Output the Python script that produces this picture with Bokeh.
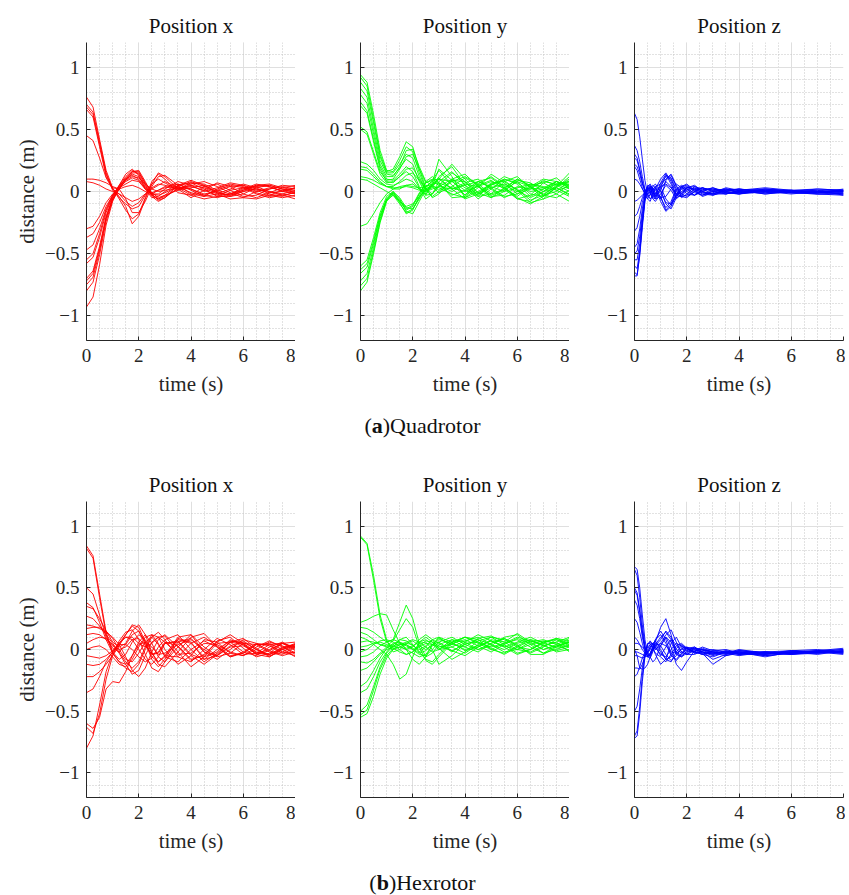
import numpy as np
from bokeh.plotting import figure
from bokeh.layouts import column, row
from bokeh.models import Div, FixedTicker, Range1d
from bokeh.embed import file_html
from bokeh.resources import INLINE

# ---------------- data ----------------
# time grid used for the x / y position panels
T = [0, 0.25, 0.5, 0.75, 1, 1.25, 1.5, 1.75, 2, 2.25, 2.5, 2.75, 3,
     3.5, 4, 4.5, 5, 5.5, 6, 6.5, 7, 7.5, 8]
# time grid used for the z position panels (faster dynamics)
TZ = [0, 0.1, 0.2, 0.3, 0.4, 0.5, 0.6, 0.7, 0.8, 1.0, 1.2, 1.4, 1.6, 1.8,
      2.0, 2.3, 2.6, 3.0, 3.5, 4.0, 5.0, 6.0, 7.0, 8.0]

TITLES = ["Position x", "Position y", "Position z"]
COLORS = ["#ff0000", "#00ff00", "#0000ff"]
CAPTIONS = [("a", "Quadrotor"), ("b", "Hexrotor")]
X_TICKS = [0, 2, 4, 6, 8]
Y_TICKS = [-1, -0.5, 0, 0.5, 1]
Y_TICK_LABELS = ["\u22121", "\u22120.5", "0", "0.5", "1"]

QUAD_X = [
    [0.76, 0.68, 0.42, 0.17, 0.03, -0.06, -0.15, -0.22, -0.18, -0.05, 0.08, 0.14, 0.10, -0.01, -0.03, 0.04, 0.06, 0.01, -0.04, -0.03, 0.02, 0.04, 0.02],
    [0.70, 0.64, 0.40, 0.15, 0.02, -0.04, -0.12, -0.26, -0.20, -0.06, 0.06, 0.15, 0.12, 0.02, -0.05, 0.01, 0.07, 0.04, -0.02, -0.05, -0.01, 0.03, 0.01],
    [0.68, 0.62, 0.38, 0.14, 0.01, -0.05, -0.10, -0.14, -0.12, -0.03, 0.06, 0.10, 0.07, 0.01, 0.03, 0.05, 0.00, -0.04, -0.02, 0.03, 0.05, 0.02, -0.01],
    [0.66, 0.60, 0.36, 0.12, 0.03, 0.02, -0.06, -0.17, -0.17, -0.08, 0.04, 0.12, 0.13, 0.05, -0.02, -0.04, 0.02, 0.06, 0.04, -0.01, -0.04, -0.02, 0.01],
    [0.45, 0.41, 0.27, 0.11, 0.02, -0.02, -0.08, -0.12, -0.09, -0.02, 0.03, 0.06, 0.05, 0.02, 0.07, 0.06, 0.01, -0.02, 0.01, 0.05, 0.04, 0.00, -0.02],
    [0.10, 0.10, 0.09, 0.07, 0.04, 0.02, 0.04, 0.05, 0.03, 0.00, -0.02, 0.01, 0.04, 0.06, 0.02, -0.02, 0.00, 0.04, 0.05, 0.02, -0.01, 0.00, 0.03],
    [0.08, 0.07, 0.05, 0.02, 0.00, -0.02, -0.05, -0.08, -0.06, -0.02, 0.02, 0.05, 0.08, 0.03, -0.03, -0.06, -0.04, 0.01, 0.03, 0.01, -0.03, -0.05, -0.03],
    [-0.30, -0.28, -0.20, -0.09, -0.02, 0.03, 0.06, 0.09, 0.08, 0.02, -0.02, -0.03, -0.01, 0.04, 0.08, 0.04, -0.01, -0.03, 0.00, 0.04, 0.05, 0.02, 0.00],
    [-0.37, -0.34, -0.25, -0.12, -0.03, 0.04, 0.10, 0.14, 0.12, 0.04, -0.03, -0.06, -0.04, 0.02, 0.05, 0.03, -0.02, -0.06, -0.05, 0.00, 0.03, 0.01, -0.02],
    [-0.47, -0.43, -0.30, -0.14, -0.03, 0.05, 0.12, 0.17, 0.14, 0.05, -0.04, -0.08, -0.05, 0.03, 0.02, -0.03, -0.05, -0.02, 0.03, 0.04, 0.00, -0.03, -0.01],
    [-0.55, -0.50, -0.34, -0.15, -0.04, 0.04, 0.11, 0.16, 0.17, 0.08, -0.02, -0.07, -0.05, 0.05, 0.09, 0.05, -0.01, -0.03, 0.01, 0.05, 0.06, 0.03, 0.05],
    [-0.58, -0.53, -0.37, -0.17, -0.04, 0.05, 0.14, 0.18, 0.13, 0.02, -0.05, -0.04, 0.00, 0.06, 0.01, -0.04, -0.02, 0.02, 0.06, 0.03, -0.02, -0.04, 0.00],
    [-0.70, -0.64, -0.44, -0.20, -0.05, 0.04, 0.10, 0.13, 0.10, 0.03, -0.02, -0.02, 0.02, 0.08, 0.05, 0.00, 0.03, 0.07, 0.05, 0.00, 0.02, 0.05, 0.04],
    [-0.72, -0.66, -0.46, -0.21, -0.06, 0.02, 0.09, 0.15, 0.15, 0.07, -0.01, -0.05, -0.03, 0.01, 0.06, 0.08, 0.04, -0.01, -0.05, -0.06, -0.03, 0.01, 0.03],
    [-0.75, -0.69, -0.48, -0.22, -0.06, 0.03, 0.08, 0.11, 0.09, 0.02, -0.01, 0.01, 0.03, 0.04, -0.01, -0.03, 0.01, 0.05, 0.03, -0.02, -0.05, -0.03, -0.06],
    [-0.80, -0.73, -0.51, -0.24, -0.07, 0.02, 0.09, 0.12, 0.11, 0.06, 0.02, 0.00, 0.01, 0.03, 0.04, 0.01, -0.03, -0.02, 0.02, 0.06, 0.04, 0.00, 0.03],
    [-0.93, -0.85, -0.59, -0.27, -0.08, 0.03, 0.10, 0.16, 0.16, 0.06, -0.03, -0.06, -0.03, 0.05, 0.07, 0.02, -0.04, -0.04, 0.00, 0.02, 0.00, -0.02, -0.04],
]

QUAD_Y = [
    [0.94, 0.88, 0.62, 0.33, 0.17, 0.16, 0.25, 0.36, 0.32, 0.15, 0.02, -0.02, 0.05, 0.15, 0.08, -0.04, -0.02, 0.08, 0.12, 0.03, -0.02, 0.04, 0.10],
    [0.92, 0.85, 0.58, 0.30, 0.16, 0.18, 0.28, 0.40, 0.36, 0.18, 0.03, -0.05, -0.02, 0.10, 0.14, 0.04, -0.05, 0.00, 0.09, 0.07, 0.00, 0.03, 0.12],
    [0.88, 0.81, 0.55, 0.28, 0.15, 0.15, 0.22, 0.30, 0.27, 0.12, 0.01, 0.03, 0.12, 0.20, 0.05, -0.06, 0.02, 0.10, 0.06, -0.04, 0.02, 0.08, 0.05],
    [0.83, 0.76, 0.50, 0.25, 0.14, 0.13, 0.19, 0.26, 0.22, 0.08, -0.02, 0.05, 0.18, 0.09, -0.03, 0.06, 0.12, 0.04, -0.06, -0.03, 0.07, 0.11, 0.02],
    [0.78, 0.71, 0.46, 0.22, 0.12, 0.12, 0.20, 0.33, 0.34, 0.20, 0.08, 0.05, 0.10, 0.22, 0.10, -0.01, 0.05, 0.10, 0.07, 0.00, 0.02, 0.06, 0.08],
    [0.72, 0.65, 0.42, 0.20, 0.10, 0.09, 0.14, 0.20, 0.16, 0.04, -0.03, 0.07, 0.26, 0.12, -0.05, 0.03, 0.14, 0.07, -0.02, 0.02, 0.09, 0.05, 0.00],
    [0.69, 0.63, 0.40, 0.18, 0.08, 0.07, 0.12, 0.16, 0.12, 0.03, -0.06, -0.02, 0.08, 0.16, 0.05, -0.02, 0.03, 0.06, 0.02, -0.07, -0.03, 0.05, 0.07],
    [0.52, 0.48, 0.32, 0.16, 0.09, 0.10, 0.18, 0.28, 0.30, 0.18, 0.07, 0.09, 0.17, 0.05, -0.03, 0.08, 0.11, 0.03, -0.04, 0.04, 0.10, 0.08, 0.03],
    [0.50, 0.46, 0.30, 0.14, 0.07, 0.08, 0.12, 0.18, 0.19, 0.10, 0.02, 0.05, 0.10, 0.08, 0.01, -0.04, 0.05, 0.12, 0.08, -0.02, -0.04, 0.03, -0.03],
    [0.24, 0.22, 0.17, 0.10, 0.06, 0.05, 0.07, 0.10, 0.08, 0.02, 0.00, 0.06, 0.11, 0.02, 0.07, 0.10, 0.02, -0.05, 0.00, 0.06, 0.03, -0.02, 0.06],
    [0.20, 0.19, 0.14, 0.08, 0.04, 0.02, 0.02, 0.05, 0.06, 0.02, -0.03, -0.02, 0.04, 0.10, 0.03, -0.03, 0.06, 0.09, 0.01, -0.09, -0.06, 0.04, 0.15],
    [0.18, 0.17, 0.12, 0.07, 0.04, 0.04, 0.08, 0.13, 0.15, 0.09, 0.01, -0.04, 0.00, 0.08, 0.12, 0.06, -0.02, 0.02, 0.10, 0.05, -0.03, 0.00, 0.09],
    [0.12, 0.11, 0.09, 0.06, 0.04, 0.03, 0.03, 0.04, 0.03, 0.01, 0.00, 0.02, 0.04, 0.02, 0.05, 0.08, 0.04, 0.00, 0.03, 0.06, 0.04, 0.01, 0.04],
    [0.10, 0.09, 0.06, 0.03, 0.00, -0.03, -0.08, -0.12, -0.10, -0.04, 0.01, 0.04, 0.03, -0.02, -0.05, 0.00, 0.06, 0.03, -0.05, -0.10, -0.04, 0.03, -0.02],
    [-0.28, -0.26, -0.18, -0.09, -0.02, 0.02, 0.04, 0.05, 0.04, 0.03, 0.04, 0.06, 0.07, 0.03, 0.00, 0.04, 0.08, 0.05, 0.00, 0.03, 0.08, 0.06, 0.02],
    [-0.60, -0.55, -0.37, -0.17, -0.04, 0.00, -0.08, -0.15, -0.12, -0.02, 0.07, 0.10, 0.06, -0.03, 0.01, 0.08, 0.03, -0.04, -0.02, 0.05, 0.07, 0.01, -0.04],
    [-0.63, -0.58, -0.40, -0.19, -0.06, -0.01, -0.09, -0.18, -0.15, -0.04, 0.08, 0.12, 0.07, -0.05, -0.04, 0.05, 0.09, 0.02, -0.06, -0.08, 0.00, 0.08, 0.05],
    [-0.66, -0.61, -0.42, -0.20, -0.07, -0.03, -0.10, -0.17, -0.14, -0.05, 0.04, 0.08, 0.05, 0.00, 0.06, 0.04, -0.03, 0.01, 0.08, 0.04, -0.03, -0.05, 0.01],
    [-0.72, -0.66, -0.45, -0.22, -0.06, 0.00, -0.05, -0.13, -0.14, -0.06, 0.03, 0.09, 0.10, 0.02, -0.06, -0.02, 0.07, 0.08, 0.01, -0.05, 0.00, 0.06, 0.08],
    [-0.76, -0.70, -0.48, -0.24, -0.07, -0.01, -0.06, -0.16, -0.18, -0.08, 0.02, 0.05, 0.01, 0.09, 0.08, -0.01, -0.05, 0.03, 0.10, 0.04, -0.06, -0.02, -0.08],
    [-0.80, -0.73, -0.50, -0.25, -0.08, -0.02, -0.07, -0.14, -0.11, -0.01, 0.05, 0.04, -0.01, 0.04, 0.11, 0.05, -0.04, -0.03, 0.04, 0.02, 0.03, 0.08, 0.04],
]

QUAD_Z = [
    [0.63, 0.58, 0.44, 0.26, 0.09, -0.02, -0.06, -0.03, 0.02, 0.10, 0.15, 0.08, -0.03, -0.04, 0.01, 0.03, -0.01, -0.02, 0.01, 0.00, 0.02, 0.00, -0.01, 0.00],
    [0.37, 0.33, 0.24, 0.12, 0.02, -0.04, -0.03, 0.02, 0.04, -0.05, -0.13, -0.08, 0.02, 0.05, 0.02, -0.03, 0.00, 0.03, -0.01, -0.02, 0.01, -0.01, 0.00, -0.02],
    [0.30, 0.27, 0.18, 0.08, 0.00, -0.06, -0.08, -0.02, 0.04, 0.06, 0.12, 0.10, 0.00, -0.05, -0.02, 0.04, 0.02, -0.02, -0.02, 0.01, 0.03, 0.01, -0.01, 0.01],
    [0.27, 0.25, 0.17, 0.07, 0.00, -0.03, 0.02, 0.05, 0.03, -0.08, -0.16, -0.12, -0.02, 0.04, 0.05, 0.00, -0.03, 0.00, 0.02, -0.01, -0.01, 0.01, 0.02, 0.01],
    [0.22, 0.20, 0.14, 0.06, 0.01, 0.00, 0.03, 0.01, -0.04, 0.02, 0.08, 0.04, -0.05, -0.03, 0.03, 0.05, 0.00, -0.03, 0.01, 0.02, 0.00, -0.02, 0.00, -0.01],
    [0.20, 0.17, 0.10, 0.03, -0.03, -0.06, -0.02, 0.04, 0.06, 0.00, -0.09, -0.10, -0.03, 0.04, 0.06, 0.01, -0.04, -0.01, 0.03, 0.01, -0.02, 0.00, 0.01, -0.03],
    [0.10, 0.09, 0.06, 0.02, -0.01, -0.02, 0.00, 0.02, 0.01, 0.04, 0.06, 0.03, -0.02, 0.00, 0.03, 0.02, 0.01, 0.02, 0.00, -0.01, 0.01, 0.00, 0.00, 0.01],
    [-0.08, -0.07, -0.05, -0.03, -0.01, 0.01, 0.04, 0.03, -0.01, -0.05, -0.04, 0.02, 0.06, 0.03, -0.02, -0.03, 0.01, 0.03, 0.00, -0.02, 0.00, 0.01, -0.02, -0.02],
    [-0.20, -0.18, -0.12, -0.05, 0.00, 0.03, 0.02, -0.02, -0.05, 0.03, 0.13, 0.11, 0.02, -0.04, -0.03, 0.02, 0.03, 0.00, -0.02, 0.00, 0.01, -0.01, 0.00, 0.00],
    [-0.32, -0.29, -0.20, -0.09, 0.00, 0.04, 0.01, -0.05, -0.06, 0.01, -0.10, -0.14, -0.05, 0.03, 0.04, 0.01, -0.02, -0.03, 0.00, 0.02, 0.00, -0.01, -0.02, -0.01],
    [-0.50, -0.48, -0.36, -0.18, -0.04, 0.04, 0.06, 0.02, -0.03, -0.06, 0.09, 0.13, 0.04, -0.02, -0.04, 0.00, 0.03, 0.01, -0.01, -0.02, 0.02, 0.01, -0.01, 0.02],
    [-0.55, -0.55, -0.42, -0.22, -0.05, 0.03, 0.00, -0.06, -0.08, -0.02, 0.05, 0.01, -0.06, -0.02, 0.03, 0.04, 0.00, -0.02, 0.02, 0.01, -0.02, 0.00, 0.00, -0.02],
    [-0.60, -0.62, -0.48, -0.26, -0.07, 0.03, 0.05, 0.00, -0.04, 0.07, 0.14, 0.06, -0.03, -0.01, 0.02, -0.01, -0.03, 0.01, 0.02, 0.00, 0.01, 0.00, 0.01, 0.00],
    [-0.65, -0.67, -0.52, -0.29, -0.08, 0.02, 0.03, -0.02, -0.06, -0.04, -0.15, -0.10, 0.01, 0.04, 0.00, -0.03, 0.02, 0.02, -0.01, -0.01, 0.00, -0.01, -0.02, -0.03],
    [-0.68, -0.68, -0.50, -0.25, -0.05, 0.05, 0.04, -0.01, -0.02, 0.05, 0.10, 0.14, 0.05, -0.04, -0.05, 0.00, 0.03, 0.00, -0.02, 0.01, 0.02, 0.00, -0.01, 0.01],
    [-0.45, -0.42, -0.30, -0.14, -0.02, 0.02, -0.02, -0.05, -0.02, 0.04, -0.06, -0.11, -0.04, 0.02, 0.03, 0.02, -0.01, -0.02, 0.01, 0.02, -0.01, 0.00, 0.02, 0.01],
]

HEX_X = [
    [0.84, 0.76, 0.45, 0.14, -0.02, -0.08, -0.04, 0.06, 0.12, 0.08, -0.03, -0.10, -0.06, 0.08, 0.05, -0.06, -0.02, 0.08, 0.04, -0.04, -0.01, 0.05, 0.02],
    [0.82, 0.74, 0.42, 0.12, -0.03, -0.10, -0.12, -0.05, 0.06, 0.12, 0.05, -0.06, -0.10, 0.02, 0.12, 0.02, -0.05, 0.03, 0.06, 0.00, -0.05, -0.02, 0.03],
    [0.50, 0.45, 0.28, 0.10, 0.01, -0.02, 0.04, 0.12, 0.15, 0.06, -0.08, -0.14, -0.08, 0.09, 0.06, -0.08, -0.05, 0.06, 0.09, 0.01, -0.06, 0.00, 0.04],
    [0.38, 0.34, 0.22, 0.08, -0.03, -0.10, -0.15, -0.18, -0.12, 0.00, 0.10, 0.14, 0.08, -0.06, -0.10, 0.00, 0.09, 0.04, -0.04, -0.03, 0.04, 0.05, -0.01],
    [0.35, 0.33, 0.25, 0.15, 0.06, 0.02, 0.05, 0.15, 0.20, 0.12, -0.02, -0.12, -0.14, -0.02, 0.10, 0.13, 0.02, -0.06, -0.02, 0.05, 0.03, -0.03, -0.02],
    [0.27, 0.25, 0.19, 0.12, 0.05, -0.02, -0.10, -0.15, -0.10, 0.02, 0.12, 0.10, 0.00, -0.12, -0.05, 0.08, 0.06, -0.03, -0.05, 0.02, 0.07, 0.02, -0.04],
    [0.20, 0.19, 0.17, 0.14, 0.10, 0.04, -0.06, -0.17, -0.22, -0.15, -0.02, 0.08, 0.12, 0.02, -0.09, -0.04, 0.06, 0.12, 0.05, -0.04, -0.06, 0.01, 0.05],
    [0.17, 0.18, 0.18, 0.15, 0.09, 0.00, -0.08, -0.10, -0.03, 0.06, 0.10, 0.04, -0.05, -0.06, 0.05, 0.10, 0.03, -0.05, -0.03, 0.04, 0.04, -0.02, -0.05],
    [0.12, 0.13, 0.12, 0.08, 0.03, 0.00, 0.02, 0.08, 0.09, 0.03, -0.04, -0.03, 0.05, 0.07, -0.04, -0.08, 0.00, 0.07, 0.05, -0.02, -0.04, 0.00, 0.03],
    [0.05, 0.08, 0.10, 0.09, 0.04, -0.03, -0.12, -0.20, -0.17, -0.05, 0.06, 0.10, 0.06, -0.04, -0.03, 0.05, 0.04, -0.02, -0.05, 0.00, 0.06, 0.03, -0.03],
    [0.00, 0.02, 0.03, 0.00, -0.06, -0.12, -0.14, -0.08, 0.02, 0.10, 0.12, 0.05, -0.06, -0.10, 0.00, 0.07, 0.02, -0.06, -0.03, 0.04, 0.05, 0.00, -0.06],
    [-0.05, -0.06, -0.07, -0.05, -0.01, 0.05, 0.12, 0.20, 0.18, 0.06, -0.06, -0.10, -0.05, 0.10, 0.12, -0.02, -0.08, 0.00, 0.08, 0.05, -0.01, -0.04, 0.02],
    [-0.12, -0.13, -0.12, -0.08, -0.02, 0.05, 0.10, 0.08, 0.00, -0.08, -0.12, -0.06, 0.05, 0.06, -0.05, -0.12, -0.04, 0.06, 0.07, 0.00, -0.04, 0.02, 0.04],
    [-0.22, -0.22, -0.18, -0.12, -0.05, 0.03, 0.12, 0.19, 0.15, 0.04, -0.04, -0.02, 0.06, 0.03, -0.08, -0.05, 0.07, 0.10, 0.01, -0.06, -0.03, 0.05, 0.06],
    [-0.35, -0.32, -0.22, -0.10, -0.02, 0.05, 0.10, 0.10, 0.05, 0.02, 0.05, 0.10, 0.11, -0.02, -0.14, -0.06, 0.05, 0.06, -0.02, -0.05, 0.02, 0.06, 0.00],
    [-0.60, -0.64, -0.55, -0.32, -0.26, -0.27, -0.18, -0.05, 0.04, 0.06, 0.02, -0.04, -0.03, 0.04, 0.08, 0.00, -0.06, -0.03, 0.05, 0.04, -0.02, -0.05, -0.02],
    [-0.63, -0.68, -0.52, -0.24, -0.05, 0.07, 0.14, 0.16, 0.08, -0.04, -0.15, -0.18, -0.10, 0.06, 0.09, -0.02, -0.05, 0.02, 0.03, -0.03, -0.04, 0.01, 0.04],
    [-0.80, -0.70, -0.45, -0.18, -0.03, 0.04, 0.04, 0.00, -0.06, -0.10, -0.07, 0.02, 0.08, 0.12, 0.00, -0.10, -0.03, 0.06, 0.04, -0.03, 0.00, 0.05, 0.01],
]

HEX_Y = [
    [0.92, 0.86, 0.60, 0.28, 0.08, -0.02, 0.00, 0.05, 0.07, 0.03, 0.00, 0.04, 0.09, 0.04, 0.02, 0.09, 0.11, 0.06, 0.13, 0.06, 0.00, 0.04, 0.09],
    [0.91, 0.85, 0.56, 0.25, 0.06, 0.02, 0.08, 0.10, 0.04, -0.02, 0.02, 0.08, 0.05, -0.02, 0.06, 0.12, 0.07, 0.02, 0.06, 0.10, 0.05, 0.02, 0.06],
    [0.22, 0.24, 0.27, 0.29, 0.28, 0.16, 0.05, 0.01, 0.03, 0.06, 0.08, 0.04, 0.00, 0.06, 0.10, 0.05, 0.00, 0.05, 0.10, 0.07, 0.03, 0.06, 0.10],
    [0.18, 0.17, 0.14, 0.10, 0.06, 0.08, 0.22, 0.36, 0.25, 0.05, -0.06, -0.03, 0.04, 0.08, 0.02, -0.02, 0.05, 0.09, 0.03, -0.03, 0.02, 0.08, 0.04],
    [0.14, 0.12, 0.08, 0.04, 0.03, 0.07, 0.16, 0.25, 0.18, 0.02, -0.09, -0.12, -0.06, 0.05, 0.08, 0.03, -0.02, 0.04, 0.09, 0.05, 0.00, 0.03, 0.06],
    [0.10, 0.08, 0.04, 0.00, -0.04, -0.12, -0.24, -0.20, -0.06, 0.06, 0.10, 0.06, 0.00, 0.02, 0.07, 0.10, 0.04, 0.00, 0.05, 0.08, 0.03, -0.01, 0.02],
    [0.06, 0.07, 0.06, 0.04, 0.02, 0.00, 0.02, 0.05, 0.04, -0.02, -0.08, -0.10, -0.04, 0.06, 0.10, 0.06, 0.02, 0.05, 0.08, 0.02, -0.03, 0.03, 0.07],
    [0.02, 0.03, 0.05, 0.06, 0.04, 0.01, -0.02, -0.04, -0.02, 0.03, 0.07, 0.06, 0.03, -0.01, 0.04, 0.08, 0.04, -0.02, 0.00, 0.06, 0.08, 0.04, -0.01],
    [-0.02, 0.00, 0.04, 0.07, 0.08, 0.06, 0.03, 0.00, 0.02, 0.08, 0.12, 0.08, 0.01, -0.08, -0.02, 0.07, 0.10, 0.04, -0.03, 0.00, 0.06, 0.08, 0.03],
    [-0.06, -0.05, -0.02, 0.03, 0.06, 0.08, 0.06, 0.00, -0.08, -0.12, -0.06, 0.04, 0.10, 0.06, -0.01, 0.02, 0.07, 0.03, 0.00, 0.04, 0.07, 0.05, 0.02],
    [-0.10, -0.11, -0.08, -0.03, 0.02, 0.04, 0.00, -0.04, -0.02, 0.05, 0.06, 0.00, -0.12, -0.05, 0.05, 0.06, 0.01, -0.04, 0.02, 0.07, 0.04, -0.02, 0.00],
    [-0.17, -0.15, -0.10, -0.04, 0.00, 0.02, 0.04, 0.06, 0.08, 0.06, 0.02, -0.02, 0.00, 0.08, 0.06, 0.00, 0.03, 0.10, 0.12, 0.04, -0.03, 0.00, 0.04],
    [-0.30, -0.26, -0.17, -0.07, 0.01, 0.05, 0.06, 0.04, 0.00, -0.04, -0.05, 0.00, 0.06, 0.10, 0.04, 0.00, 0.05, 0.09, 0.04, -0.04, -0.04, 0.02, 0.06],
    [-0.35, -0.32, -0.22, -0.10, -0.02, 0.04, 0.08, 0.07, 0.03, 0.00, 0.03, 0.08, 0.10, 0.02, -0.03, 0.04, 0.10, 0.08, 0.02, 0.00, 0.05, 0.09, 0.05],
    [-0.50, -0.45, -0.30, -0.14, -0.03, 0.03, 0.05, 0.03, 0.00, 0.02, 0.05, 0.04, 0.02, 0.04, 0.10, 0.08, 0.00, -0.03, 0.03, 0.08, 0.06, 0.01, 0.03],
    [-0.53, -0.49, -0.33, -0.16, -0.05, 0.01, 0.02, 0.00, -0.03, -0.06, -0.04, 0.03, 0.08, 0.05, 0.00, 0.03, 0.07, 0.02, -0.04, 0.00, 0.06, 0.09, 0.07],
    [-0.55, -0.52, -0.38, -0.20, -0.07, 0.00, 0.04, 0.04, 0.01, -0.03, -0.01, 0.04, 0.06, -0.01, -0.05, 0.02, 0.08, 0.06, 0.00, -0.02, 0.03, 0.06, -0.02],
]

HEX_Z = [
    [0.67, 0.65, 0.50, 0.28, 0.08, -0.04, -0.05, 0.00, 0.06, 0.18, 0.25, 0.12, -0.04, -0.06, -0.01, 0.02, -0.02, -0.05, -0.02, -0.03, -0.04, -0.02, -0.03, -0.01],
    [0.65, 0.60, 0.42, 0.20, 0.03, -0.06, -0.05, 0.02, 0.08, 0.12, 0.05, -0.05, -0.08, -0.03, 0.02, 0.00, -0.04, -0.03, -0.01, -0.04, -0.02, -0.03, -0.02, -0.02],
    [0.50, 0.46, 0.32, 0.15, 0.02, -0.03, 0.00, 0.05, 0.07, 0.00, -0.08, -0.10, -0.02, 0.03, 0.01, -0.03, -0.02, -0.08, -0.04, -0.01, -0.03, -0.04, -0.01, 0.00],
    [0.48, 0.44, 0.30, 0.13, 0.00, -0.06, -0.07, -0.02, 0.03, 0.08, 0.15, 0.10, 0.00, -0.03, 0.00, 0.01, -0.03, -0.12, -0.05, -0.02, -0.06, -0.02, -0.02, -0.03],
    [0.40, 0.36, 0.25, 0.10, 0.01, -0.02, 0.02, 0.04, 0.02, -0.05, 0.02, 0.08, 0.04, -0.02, -0.04, -0.01, 0.00, -0.02, -0.03, -0.01, -0.02, -0.03, -0.01, 0.01],
    [0.25, 0.22, 0.14, 0.05, -0.02, -0.05, -0.03, 0.02, 0.05, 0.03, -0.04, -0.09, -0.05, 0.01, 0.02, -0.02, -0.04, -0.01, 0.00, -0.03, -0.04, -0.01, 0.00, -0.02],
    [0.10, 0.08, 0.04, 0.00, -0.03, -0.05, -0.04, 0.00, 0.04, 0.10, 0.14, 0.08, -0.02, -0.05, -0.02, 0.01, 0.00, -0.03, -0.02, -0.04, -0.03, -0.02, -0.01, -0.03],
    [0.05, 0.05, 0.04, 0.02, 0.00, -0.02, -0.06, -0.10, -0.08, 0.03, 0.10, 0.02, -0.12, -0.17, -0.10, -0.01, 0.02, -0.01, -0.03, -0.02, -0.05, -0.03, -0.02, -0.01],
    [0.00, -0.05, -0.15, -0.16, -0.15, -0.12, -0.06, 0.00, 0.03, 0.05, 0.03, -0.02, -0.03, 0.00, 0.01, -0.02, -0.03, -0.02, -0.04, -0.02, -0.03, -0.01, -0.02, -0.02],
    [-0.02, -0.02, -0.03, -0.04, -0.05, -0.06, -0.03, 0.02, 0.08, 0.15, 0.08, -0.04, -0.09, -0.04, 0.01, 0.02, -0.02, -0.04, -0.02, -0.03, -0.05, -0.03, -0.02, 0.00],
    [-0.05, -0.05, -0.06, -0.07, -0.06, -0.03, 0.02, 0.05, 0.04, -0.02, -0.08, -0.06, 0.01, 0.04, 0.01, -0.03, -0.01, 0.00, -0.02, -0.04, -0.02, -0.04, -0.03, -0.02],
    [-0.15, -0.15, -0.16, -0.12, -0.06, 0.00, 0.04, 0.05, 0.02, -0.04, -0.06, 0.00, 0.05, 0.03, -0.01, -0.02, 0.01, -0.02, -0.03, 0.00, -0.03, -0.02, -0.04, -0.01],
    [-0.22, -0.20, -0.14, -0.07, -0.02, 0.02, 0.04, 0.02, -0.04, -0.12, -0.08, 0.05, 0.10, 0.02, -0.04, -0.04, -0.01, -0.03, -0.05, -0.03, -0.02, -0.04, -0.02, -0.04],
    [-0.50, -0.46, -0.32, -0.15, -0.03, 0.04, 0.06, 0.04, 0.00, 0.05, 0.12, 0.16, 0.06, -0.02, -0.04, 0.00, -0.02, -0.04, -0.01, -0.02, -0.04, -0.02, -0.01, -0.02],
    [-0.70, -0.66, -0.46, -0.21, -0.04, 0.05, 0.05, 0.01, -0.03, -0.06, -0.10, -0.04, 0.03, 0.05, 0.01, -0.02, -0.04, -0.06, -0.02, -0.01, -0.03, -0.03, -0.02, -0.03],
    [-0.72, -0.70, -0.52, -0.26, -0.06, 0.04, 0.07, 0.04, 0.00, 0.03, 0.10, 0.06, -0.03, -0.06, -0.03, 0.01, 0.00, -0.02, -0.03, -0.05, -0.02, -0.01, -0.03, -0.01],
]

# ---------------- styling / layout ----------------
FONT = "Liberation Serif"
AX_COLOR = "#262626"
FRAME_W, FRAME_H = 209, 298


def make_panel(title, tgrid, curves, color, col, b_top):
    bl = 86 if col == 0 else 65
    br = 2 if col == 2 else 0
    b_bottom = 62
    p = figure(width=bl + FRAME_W + br, height=b_top + FRAME_H + b_bottom,
               x_range=Range1d(0, 8), y_range=Range1d(-1.2, 1.2),
               output_backend="svg", toolbar_location=None,
               min_border_left=bl, min_border_right=br,
               min_border_top=b_top, min_border_bottom=b_bottom,
               title=title)
    p.outline_line_color = None
    p.background_fill_color = "white"
    p.border_fill_color = "white"

    p.title.text_font = FONT
    p.title.text_font_size = "21px"
    p.title.text_font_style = "normal"
    p.title.text_color = "#111111"
    p.title.align = "center"
    p.title.standoff = 10

    p.xaxis.ticker = FixedTicker(ticks=X_TICKS,
                                 minor_ticks=[float(v) for v in np.arange(0, 8.001, 0.5)])
    p.yaxis.ticker = FixedTicker(ticks=Y_TICKS,
                                 minor_ticks=[round(float(v), 2) for v in np.arange(-1.2, 1.2001, 0.1)])
    p.yaxis.major_label_overrides = {k: v for k, v in zip(Y_TICKS, Y_TICK_LABELS)}

    for ax in (p.xaxis[0], p.yaxis[0]):
        ax.axis_line_color = AX_COLOR
        ax.axis_line_width = 1
        ax.major_tick_line_color = AX_COLOR
        ax.major_tick_in = 4
        ax.major_tick_out = 0
        ax.minor_tick_in = 0
        ax.minor_tick_out = 0
        ax.major_label_text_font = FONT
        ax.major_label_text_font_size = "19px"
        ax.major_label_text_color = AX_COLOR
        ax.axis_label_text_font = FONT
        ax.axis_label_text_font_size = "21px"
        ax.axis_label_text_font_style = "normal"
        ax.axis_label_text_color = AX_COLOR
    p.yaxis.major_label_standoff = 7
    p.xaxis.major_label_standoff = 8
    p.xaxis.axis_label = "time (s)"
    p.xaxis.axis_label_standoff = 7
    if col == 0:
        p.yaxis.axis_label = "distance (m)"
        p.yaxis.axis_label_standoff = 3

    for g in (p.xgrid[0], p.ygrid[0]):
        g.grid_line_color = "#dfdfdf"
        g.grid_line_width = 1
        g.minor_grid_line_color = "#c4c4c4"
        g.minor_grid_line_width = 1
        g.minor_grid_line_dash = "1 2"

    p.multi_line(xs=[list(tgrid)] * len(curves), ys=curves,
                 line_color=color, line_width=0.9)
    return p


def caption(letter, name, height, pad_top):
    html = ('<div style="font-family:\'Liberation Serif\',serif;font-size:22px;'
            'line-height:22px;color:#111;text-align:center;width:834px;'
            f'padding-top:{pad_top}px;padding-left:11px;">'
            f'(<b>{letter}</b>){name}</div>')
    return Div(text=html, width=845, height=height, margin=0)


rows_data = [
    [(TITLES[0], T, QUAD_X, COLORS[0]), (TITLES[1], T, QUAD_Y, COLORS[1]), (TITLES[2], TZ, QUAD_Z, COLORS[2])],
    [(TITLES[0], T, HEX_X, COLORS[0]), (TITLES[1], T, HEX_Y, COLORS[1]), (TITLES[2], TZ, HEX_Z, COLORS[2])],
]

items = []
for r, panels in enumerate(rows_data):
    b_top = 42 if r == 0 else 34
    figs = [make_panel(tt, tg, cv, c, i, b_top) for i, (tt, tg, cv, c) in enumerate(panels)]
    items.append(row(*figs, spacing=0))
    letter, name = CAPTIONS[r]
    if r == 0:
        items.append(caption(letter, name, 63, 13))
    else:
        items.append(caption(letter, name, 36, 13))

layout = column(*items, spacing=0)
open("out.html", "w").write(file_html(layout, INLINE))
